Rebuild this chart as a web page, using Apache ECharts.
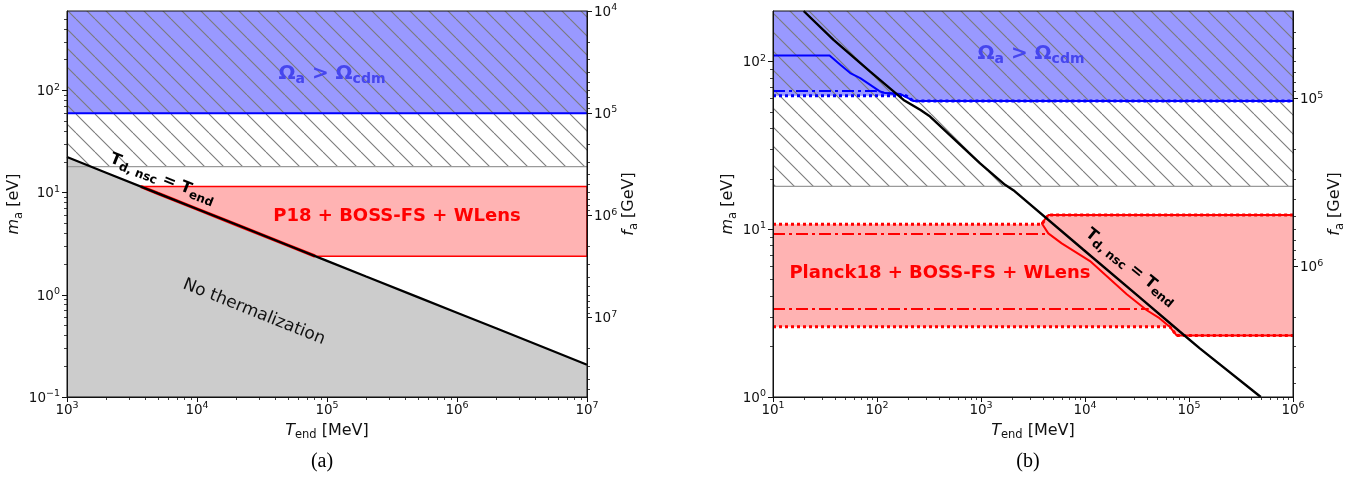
<!DOCTYPE html>
<html><head><meta charset="utf-8">
<script src="https://cdn.jsdelivr.net/npm/echarts@6/dist/echarts.min.js"></script>
<style>html,body{margin:0;padding:0;background:#fff}#c{width:1364px;height:485px}</style>
</head><body><div id="c"></div>
<script>
// ================= DATA =================
// ---- panel (a) ----
const A_T_RANGE = [1e3, 1e7];          // T_end [MeV]
const A_M_RANGE = [0.1, 600];          // m_a [eV]
const A_F_RANGE = [1e4, 6e7];          // f_a [GeV] (top -> bottom)
const A_X_TICKS = [1e3, 1e4, 1e5, 1e6, 1e7];
const A_Y_TICKS = [0.1, 1, 10, 100];
const A_F_TICKS = [1e4, 1e5, 1e6, 1e7];
const A_THERM_T = [1e3, 2e3, 5e3, 1e4, 2e4, 5e4, 1e5, 2e5, 5e5, 1e6, 2e6, 5e6, 1e7];
const A_THERM_M = [22.3, 15.7, 9.84, 6.92, 4.87, 3.06, 2.15, 1.51, 0.95, 0.668, 0.47, 0.295, 0.207];
const A_OMEGA_M = 60;        // Omega_a > Omega_cdm bound
const A_HATCH_M = 18;        // hatched region lower edge
const A_P18_M = [2.39, 11.5];// P18 + BOSS-FS + WLens band
const A_P18_EDGE_T = [3.7e3, 5e3, 1e4, 2e4, 5e4, 8.1e4];   // band edge along the thermalization line
const A_P18_EDGE_M = [11.5, 9.84, 6.92, 4.87, 3.06, 2.39];

// ---- panel (b) ----
const B_T_RANGE = [10, 1e6];
const B_M_RANGE = [1, 200];
const B_F_RANGE = [3e4, 6e6];
const B_X_TICKS = [10, 100, 1e3, 1e4, 1e5, 1e6];
const B_Y_TICKS = [1, 10, 100];
const B_F_TICKS = [1e5, 1e6];
const B_THERM_T = [19.7, 38.2, 86, 180, 260, 324, 980, 1703, 2047, 9600, 32500, 82000, 127000, 490000];
const B_THERM_M = [200, 134.6, 87.1, 59, 51.5, 47, 24.7, 18.4, 17.1, 7.57, 3.99, 2.45, 1.95, 1.0];
const B_HATCH_M = 18;
// blue bounds
const B_BLUE_SOLID_T = [10, 35, 44.4, 55.3, 69, 86.1, 107.4, 120, 167, 224, 1e6];
const B_BLUE_SOLID_M = [108.6, 108.6, 95.5, 85.3, 79.6, 72.6, 66.2, 64.8, 64.1, 58.2, 58.2];
const B_BLUE_DASHDOT_T = [10, 95, 120, 167, 224, 1e6];
const B_BLUE_DASHDOT_M = [66.8, 66.8, 64.8, 64.1, 58.2, 58.2];
const B_BLUE_DOT_T = [10, 190, 224, 1e6];
const B_BLUE_DOT_M = [62.4, 62.4, 58.2, 58.2];
const B_BLUE_FILL_T = [10, 190, 224, 1e6, 1e6, 10];
const B_BLUE_FILL_M = [62.4, 62.4, 58.2, 58.2, 200, 200];
// red bounds
const B_RED_SOLID_T = [1e6, 4436, 3837, 4436, 5970, 11170, 25200, 39300, 52000, 65600, 76000, 1e6];
const B_RED_SOLID_M = [12.16, 12.16, 10.85, 9.45, 8.24, 6.46, 4.10, 3.29, 2.95, 2.61, 2.33, 2.33];
const B_RED_DOT_TOP_T = [10, 3837, 4436, 1e6];
const B_RED_DOT_TOP_M = [10.7, 10.7, 12.16, 12.16];
const B_RED_DD_TOP_T = [10, 4436];
const B_RED_DD_TOP_M = [9.36, 9.36];
const B_RED_DD_BOT_T = [10, 41000];
const B_RED_DD_BOT_M = [3.35, 3.35];
const B_RED_DOT_BOT_T = [10, 65600, 76000, 1e6];
const B_RED_DOT_BOT_M = [2.62, 2.62, 2.33, 2.33];
const B_RED_FILL_T = [10, 3837, 4436, 1e6, 1e6, 76000, 65600, 10];
const B_RED_FILL_M = [10.7, 10.7, 12.16, 12.16, 2.33, 2.33, 2.62, 2.62];

// ================= HELPERS =================
const L = v => Math.round(Math.log10(v) * 1e9) / 1e9;
const pts = (T, M) => T.map((t, i) => [L(t), L(M[i])]);
const FONT = 'DejaVu Sans';
const INK = '#111';

function minorTicks(lo, hi) {
  const out = [];
  for (let k = Math.floor(lo) - 1; k <= Math.ceil(hi); k++)
    for (let j = 2; j <= 9; j++) {
      const v = k + Math.log10(j);
      if (v > lo + 1e-6 && v < hi - 1e-6) out.push(v);
    }
  return out;
}
function supFmt(v) {
  const e = Math.round(v);
  return '{b|10}{s|' + (e < 0 ? '\u2212' + (-e) : e) + '}';
}
const tickRich = {
  b: {fontSize: 13.5, fontFamily: FONT, color: INK, verticalAlign: 'bottom'},
  s: {fontSize: 9.5, fontFamily: FONT, color: INK, verticalAlign: 'bottom', padding: [0, 0, 6.5, 0]}
};
const nameRich = {
  i: {fontSize: 16, fontStyle: 'italic', fontFamily: FONT, color: INK, verticalAlign: 'bottom', padding: [0, 0, 3, 0]},
  s: {fontSize: 11.5, fontFamily: FONT, color: INK, verticalAlign: 'bottom'},
  n: {fontSize: 16, fontFamily: FONT, color: INK, verticalAlign: 'bottom', padding: [0, 0, 3, 0]}
};

function hatchCanvas() {
  const s = 19, c = document.createElement('canvas');
  c.width = s; c.height = s;
  const g = c.getContext('2d');
  g.strokeStyle = '#7a7a7a'; g.lineWidth = 1.1;
  for (const k of [-s, 0, s]) { g.beginPath(); g.moveTo(k, 0); g.lineTo(k + s, s); g.stroke(); }
  return c;
}
const HATCH = {image: hatchCanvas(), repeat: 'repeat'};

function majorAxis(kind, grid, range, ticks, pos, extra) {
  const lo = L(range[0]), hi = L(range[1]);
  const tv = ticks.map(L);
  return Object.assign({
    type: 'value', gridIndex: grid, position: pos, min: lo, max: hi, z: 10,
    axisLine: {show: true, onZero: false, lineStyle: {color: INK, width: 1}},
    axisTick: {show: true, customValues: tv, length: 5, lineStyle: {color: INK, width: 1}},
    axisLabel: {show: true, customValues: tv, formatter: supFmt, rich: tickRich,
                margin: kind === 'x' ? 4 : 7},
    splitLine: {show: false}
  }, extra || {});
}
function minorAxis(grid, range, pos, extra) {
  const lo = L(range[0]), hi = L(range[1]);
  return Object.assign({
    type: 'value', gridIndex: grid, position: pos, min: lo, max: hi, z: 10,
    axisLine: {show: false, onZero: false},
    axisTick: {show: true, customValues: minorTicks(lo, hi), length: 3, lineStyle: {color: INK, width: 0.8}},
    axisLabel: {show: false}, splitLine: {show: false}
  }, extra || {});
}

function polySeries(xi, yi, points, style, z) {
  return {
    type: 'custom', xAxisIndex: xi, yAxisIndex: yi, z: z, silent: true, animation: false,
    data: [points[0]],
    renderItem: function (params, api) {
      const cs = params.coordSys;
      return {
        type: 'polygon',
        shape: {points: points.map(p => api.coord(p))},
        style: style,
        clipPath: {type: 'rect', shape: {x: cs.x, y: cs.y, width: cs.width, height: cs.height}}
      };
    }
  };
}
function lineSeries(xi, yi, T, M, color, width, type, z) {
  return {
    type: 'line', xAxisIndex: xi, yAxisIndex: yi, data: pts(T, M), symbol: 'none', showSymbol: false,
    lineStyle: {color: color, width: width, type: type || 'solid', cap: 'butt'}, z: z || 5,
    silent: true, animation: false, clip: true
  };
}
const rect = (T, M) => pts([T[0], T[1], T[1], T[0]], [M[0], M[0], M[1], M[1]]);

// ================= OPTION =================
const xName = {name: '{i|T}{s|end}{n| [MeV]}', nameLocation: 'middle', nameGap: 21, nameTextStyle: {rich: nameRich}};
const mName = {name: '{i|m}{s|a}{n| [eV]}', nameLocation: 'middle', nameRotate: 90, nameTextStyle: {rich: nameRich}};
const fName = {name: '{i|f}{s|a}{n| [GeV]}', nameLocation: 'middle', nameRotate: 90, nameTextStyle: {rich: nameRich}};

const BLUE_FILL = '#9999ff', RED_FILL = '#ffb3b3', GREY_FILL = '#cccccc';

const series = [
  // ---- panel a ----
  polySeries(0, 0, rect(A_T_RANGE, [A_OMEGA_M, A_M_RANGE[1]]), {fill: BLUE_FILL}, 1),
  polySeries(0, 0, rect(A_T_RANGE, [A_HATCH_M, A_M_RANGE[1]]), {fill: HATCH}, 2),
  polySeries(0, 0, rect(A_T_RANGE, A_P18_M), {fill: RED_FILL, stroke: '#ff0000', lineWidth: 1.5}, 3),
  polySeries(0, 0, pts(A_THERM_T.concat([A_T_RANGE[1], A_T_RANGE[0]]),
                       A_THERM_M.concat([A_M_RANGE[0], A_M_RANGE[0]])), {fill: GREY_FILL}, 4),
  lineSeries(0, 0, A_T_RANGE, [A_HATCH_M, A_HATCH_M], '#9a9a9a', 1.2, 'solid', 5),
  lineSeries(0, 0, A_T_RANGE, [A_OMEGA_M, A_OMEGA_M], '#0000ff', 2, 'solid', 5),
  lineSeries(0, 0, A_P18_EDGE_T, A_P18_EDGE_M, '#ff0000', 3.4, 'solid', 5),
  lineSeries(0, 0, A_THERM_T, A_THERM_M, '#000000', 2.2, 'solid', 6),
  // ---- panel b ----
  polySeries(2, 4, pts(B_BLUE_FILL_T, B_BLUE_FILL_M), {fill: BLUE_FILL}, 1),
  polySeries(2, 4, rect(B_T_RANGE, [B_HATCH_M, B_M_RANGE[1]]), {fill: HATCH}, 2),
  polySeries(2, 4, pts(B_RED_FILL_T, B_RED_FILL_M), {fill: RED_FILL}, 3),
  lineSeries(2, 4, B_T_RANGE, [B_HATCH_M, B_HATCH_M], '#9a9a9a', 1.2, 'solid', 5),
  lineSeries(2, 4, B_BLUE_DOT_T, B_BLUE_DOT_M, '#0000ff', 3, [3, 3], 5),
  lineSeries(2, 4, B_BLUE_DASHDOT_T, B_BLUE_DASHDOT_M, '#0000ff', 2, [12, 4, 3, 4], 5),
  lineSeries(2, 4, B_BLUE_SOLID_T, B_BLUE_SOLID_M, '#0000ff', 2, 'solid', 5),
  lineSeries(2, 4, B_RED_DOT_TOP_T, B_RED_DOT_TOP_M, '#ff0000', 3, [3, 3], 5),
  lineSeries(2, 4, B_RED_DOT_BOT_T, B_RED_DOT_BOT_M, '#ff0000', 3, [3, 3], 5),
  lineSeries(2, 4, B_RED_DD_TOP_T, B_RED_DD_TOP_M, '#ff0000', 2, [12, 4, 3, 4], 5),
  lineSeries(2, 4, B_RED_DD_BOT_T, B_RED_DD_BOT_M, '#ff0000', 2, [12, 4, 3, 4], 5),
  lineSeries(2, 4, B_RED_SOLID_T, B_RED_SOLID_M, '#ff0000', 2, 'solid', 5),
  lineSeries(2, 4, B_THERM_T, B_THERM_M, '#000000', 2.4, 'solid', 6)
];

function txt(x, y, rot, text, rich, extra) {
  return Object.assign({
    type: 'text', x: x, y: y, rotation: rot * Math.PI / 180, z: 50, silent: true,
    style: {text: text, rich: rich, align: 'center', verticalAlign: 'middle',
            textAlign: 'center', textVerticalAlign: 'middle'}
  }, extra || {});
}
const OM_C = '#4646ee';
const omegaRich = {
  b: {fontSize: 20, fontWeight: 'bold', fontFamily: FONT, fill: OM_C, color: OM_C, verticalAlign: 'bottom', padding: [0, 0, 2.5, 0]},
  s: {fontSize: 14, fontWeight: 'bold', fontFamily: FONT, fill: OM_C, color: OM_C, verticalAlign: 'bottom'}
};
const tdRich = {
  b: {fontSize: 16, fontWeight: 'bold', fontFamily: FONT, fill: '#000', color: '#000', verticalAlign: 'bottom', padding: [0, 0, 2.5, 0]},
  s: {fontSize: 12, fontWeight: 'bold', fontFamily: FONT, fill: '#000', color: '#000', verticalAlign: 'bottom'}
};
const redRich = {r: {fontSize: 18, fontWeight: 'bold', fontFamily: FONT, fill: '#ff0000', color: '#ff0000'}};
const plainRich = {p: {fontSize: 17, fontFamily: FONT, fill: INK, color: INK}};
const serifRich = {p: {fontSize: 20, fontFamily: 'Liberation Serif', fill: '#000', color: '#000'}};
const OMEGA = '{b|\u03A9}{s|a}{b| > \u03A9}{s|cdm}';
const TDNSC = '{b|T}{s|d, nsc}{b| = T}{s|end}';

const option = {
  animation: false,
  backgroundColor: '#ffffff',
  grid: [
    {left: 67, top: 11, width: 520, height: 386, show: true, borderColor: INK, borderWidth: 1, backgroundColor: 'transparent', z: 10},
    {left: 773, top: 11, width: 520, height: 386, show: true, borderColor: INK, borderWidth: 1, backgroundColor: 'transparent', z: 10}
  ],
  xAxis: [
    majorAxis('x', 0, A_T_RANGE, A_X_TICKS, 'bottom', xName),
    minorAxis(0, A_T_RANGE, 'bottom'),
    majorAxis('x', 1, B_T_RANGE, B_X_TICKS, 'bottom', xName),
    minorAxis(1, B_T_RANGE, 'bottom')
  ],
  yAxis: [
    majorAxis('y', 0, A_M_RANGE, A_Y_TICKS, 'left', Object.assign({nameGap: 41}, mName)),
    minorAxis(0, A_M_RANGE, 'left'),
    majorAxis('y', 0, A_F_RANGE, A_F_TICKS, 'right', Object.assign({nameGap: 34, inverse: true}, fName)),
    minorAxis(0, A_F_RANGE, 'right', {inverse: true}),
    majorAxis('y', 1, B_M_RANGE, B_Y_TICKS, 'left', Object.assign({nameGap: 32}, mName)),
    minorAxis(1, B_M_RANGE, 'left'),
    majorAxis('y', 1, B_F_RANGE, B_F_TICKS, 'right', Object.assign({nameGap: 34, inverse: true}, fName)),
    minorAxis(1, B_F_RANGE, 'right', {inverse: true})
  ],
  series: series,
  graphic: [
    txt(332, 75, 0, OMEGA, omegaRich),
    txt(397, 216, 0, '{r|P18 + BOSS-FS + WLens}', redRich),
    txt(254, 312, -21.8, '{p|No thermalization}', plainRich),
    txt(162, 180, -21.8, TDNSC, tdRich),
    txt(1031, 55, 0, OMEGA, omegaRich),
    txt(940, 273, 0, '{r|Planck18 + BOSS-FS + WLens}', redRich),
    txt(1130, 268, -39, TDNSC, tdRich),
    txt(322, 462, 0, '{p|(a)}', serifRich),
    txt(1028, 462, 0, '{p|(b)}', serifRich)
  ]
};

const chart = echarts.init(document.getElementById('c'), null, {renderer: 'canvas'});
chart.setOption(option);
</script>
</body></html>
